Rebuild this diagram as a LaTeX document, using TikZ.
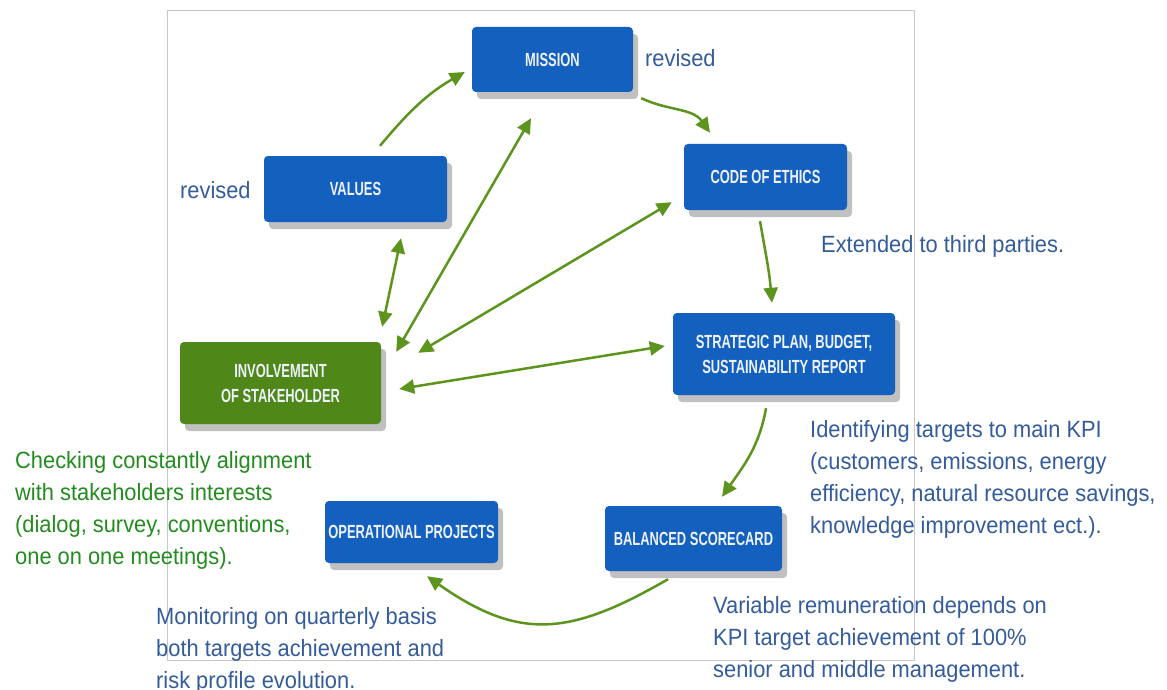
\documentclass[tikz,border=0pt]{standalone}
\usepackage{fontspec}
\setmainfont{Liberation Sans}
\newfontfamily\notefont[FakeStretch=0.93]{Liberation Sans}
\newfontfamily\boxfont[FakeStretch=0.68]{Liberation Sans}
\usetikzlibrary{arrows.meta,shadows}

\definecolor{boxblue}{RGB}{20,96,190}
\definecolor{boxgreen}{RGB}{80,135,25}
\definecolor{arrowgreen}{RGB}{92,148,30}
\definecolor{noteblue}{RGB}{52,92,155}
\definecolor{notegreen}{RGB}{35,140,30}
\definecolor{boxtext}{RGB}{236,241,250}

\begin{document}
\begin{tikzpicture}
[
	x=1pt, y=-1pt,
	stage/.style={rectangle,rounded corners=4pt,fill=boxblue,text=boxtext,align=center,inner sep=0pt,
		font=\boxfont\bfseries\fontsize{19}{25}\selectfont,
		drop shadow={shadow xshift=5pt,shadow yshift=-7pt,opacity=0.35,fill=black!70}},
	flow/.style={-{Triangle[length=15pt,width=14pt]},arrowgreen,line width=2.5pt},
	link/.style={{Triangle[length=15pt,width=14pt]}-{Triangle[length=15pt,width=14pt]},arrowgreen,line width=2.5pt},
	note/.style={anchor=north west,inner sep=0pt,align=left,text=noteblue,
		font=\notefont\fontsize{23.5}{32}\selectfont}
]

	% page and frame
	\fill[white] (0,0) rectangle (1167,690);
	\useasboundingbox (0,0) rectangle (1167,690);
	\draw[black!22,line width=1pt] (167,11) rectangle (914,660);

	% boxes
	\node[stage,minimum width=161pt,minimum height=65pt] (mission) at (552.5,59.5) {MISSION};
	\node[stage,minimum width=183pt,minimum height=66pt] (values) at (355.5,189) {VALUES};
	\node[stage,minimum width=163pt,minimum height=66pt] (code) at (765.5,177) {CODE OF ETHICS};
	\node[stage,minimum width=222pt,minimum height=82pt] (strategic) at (784,354)
		{STRATEGIC PLAN, BUDGET,\\SUSTAINABILITY REPORT};
	\node[stage,fill=boxgreen,minimum width=201pt,minimum height=82pt] (stakeholder) at (280.5,383)
		{INVOLVEMENT\\OF STAKEHOLDER};
	\node[stage,minimum width=173pt,minimum height=62pt] (operational) at (411.5,532) {OPERATIONAL PROJECTS};
	\node[stage,minimum width=177pt,minimum height=65pt] (balanced) at (693.5,538.5) {BALANCED SCORECARD};

	% cycle
	\draw[flow] ([shift={(24.5,-10)}]values.north) to[out=50,in=210] ([shift={(-7,12.5)}]mission.west);
	\draw[flow] ([shift={(8,6)}]mission.south east) to[out=-25,in=125] ([shift={(-55.5,-11)}]code.north);
	\draw[flow] ([shift={(-5.5,11)}]code.south) to[out=-80,in=95] ([shift={(-12,-10)}]strategic.north);
	\draw[flow] ([shift={(-18,13)}]strategic.south) to[out=-100,in=55] ([shift={(28.5,-9)}]balanced.north);
	\draw[flow] ([shift={(-25.5,8)}]balanced.south) to[out=210,in=-35,looseness=1.2] ([shift={(15.5,13)}]operational.south);

	% links to stakeholders
	\draw[link] ([shift={(45.5,16)}]values.south) -- ([shift={(1,-15)}]stakeholder.north east);
	\draw[link] ([shift={(-21.5,26)}]mission.south) -- ([shift={(15,10)}]stakeholder.north east);
	\draw[link] ([shift={(-12,-8)}]code.south west) -- ([shift={(37,11)}]stakeholder.north east);
	\draw[link] ([shift={(-8,-8)}]strategic.west) -- ([shift={(18,6)}]stakeholder.east);

	% notes
	\node[note,anchor=base west] (revvalues) at (180,198) {revised};
	\node[note,anchor=base west] (revmission) at (645,67) {revised};
	\node[note,anchor=base west] (extended) at (821,252) {Extended to third parties.};
	\node[note] (kpi) at (810,420) {Identifying targets to main KPI\\(customers, emissions, energy\\efficiency, natural resource savings,\\knowledge improvement ect.).};
	\node[note,text=notegreen] (checking) at (15,451) {Checking constantly alignment\\with stakeholders interests\\(dialog, survey, conventions,\\one on one meetings).};
	\node[note] (monitoring) at (156,607) {Monitoring on quarterly basis\\both targets achievement and\\risk profile evolution.};
	\node[note] (variable) at (713,596) {Variable remuneration depends on\\KPI target achievement of 100\%\\senior and middle management.};

\end{tikzpicture}
\end{document}
